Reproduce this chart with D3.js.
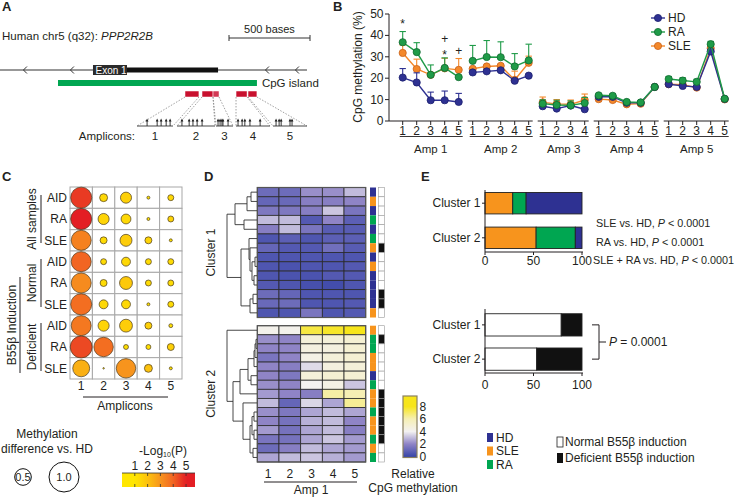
<!DOCTYPE html>
<html><head><meta charset="utf-8">
<script src="https://cdn.jsdelivr.net/npm/d3@7"></script>
<style>body{margin:0;background:#fff}svg{display:block;font-family:"Liberation Sans",Arial,sans-serif}</style>
</head><body><svg id="c" width="738" height="497"></svg>
<script>
// ---------------- DATA ----------------
// Panel A (genomic positions in bases)
const geneLenBp = 1895;
const exon1Bp = [574, 1346];
const cpgIslandBp = [358, 1586];
const ampliconBp = [[1142,1228],[1247,1315],[1315,1352],[1457,1525],[1531,1586]];
const chevronBp = [154, 444, 1648, 1833];
const scaleBarBp = 500;
const ampCpGFrac = [[0.28,0.56,0.67,0.81,0.92],[0.13,0.32,0.42,0.53,0.66],[0.12,0.24,0.35,0.41,0.71],[0.06,0.18,0.26,0.41,0.71],[0.09,0.18,0.24,0.5,0.56]];
const ampliconNames = ["1","2","3","4","5"];

// Panel B
const ampGroups = ["Amp 1","Amp 2","Amp 3","Amp 4","Amp 5"];
const cpgCounts = [5,5,4,5,5];
const hdMeth  = [20.3,18.0,9.7,9.7,8.9, 22.7,23.2,23.7,18.8,21.2, 6.9,5.8,7.2,5.5, 11.3,11.3,8.5,8.5,15.9, 17.2,16.4,15.9,32.5,10.3];
const raMeth  = [36.8,32.2,21.6,24.8,20.5, 28.1,29.9,29.8,25.5,28.3, 8.1,7.5,7.3,8.4, 12.0,11.8,8.9,8.7,15.9, 19.6,18.9,18.3,35.9,10.4];
const sleMeth = [31.8,24.3,21.6,24.6,23.9, 24.4,25.5,25.8,19.2,27.2, 8.7,8.0,7.8,9.8, 10.2,9.8,7.8,8.1,15.9, 17.2,17.0,15.6,34.0,10.1];
const hdSem  = [4.2,4.5,3.8,4.3,4.0, 0.8,0.8,0.8,0.7,0.6, 0.6,0.7,0.6,0.7, 0.5,0.5,0.5,0.5,0.4, 0.6,0.6,0.6,1.0,0.5];
const raSem  = [5.0,4.4,4.6,4.7,0.0, 7.2,7.7,7.2,6.0,7.6, 1.8,2.2,2.1,2.6, 0.6,0.8,0.6,0.6,0.5, 1.2,1.3,1.2,1.3,0.6];
const sleSem = [3.7,4.6,0.4,4.7,5.3, 0.6,0.5,0.7,4.1,3.1, 2.5,2.0,2.0,2.8, 0.6,0.5,0.5,0.5,0.5, 0.6,0.6,0.6,1.0,0.5];
const sigMarks = [{i:0,sym:"*",v:46.4},{i:3,sym:"+",v:38.2},{i:3,sym:"*",v:31.9},{i:4,sym:"+",v:32.8}];
const yTicksB = [0,10,20,30,40,50];

// Panel C
const cRowLabels = ["AID","RA","SLE","AID","RA","SLE","AID","RA","SLE"];
const cGroupLabels = ["All samples","Normal","Deficient"];
const cParentLabel = "B55\u03b2 Induction";
const cColLabels = ["1","2","3","4","5"];
const cDiff = [
  [0.66,0.21,0.31,0.066,0.15],
  [0.66,0.31,0.27,0.066,0.15],
  [0.62,0.18,0.34,0.18,0.066],
  [0.62,0.15,0.24,0.15,0.15],
  [0.62,0.18,0.37,0.15,0.15],
  [0.66,0.24,0.24,0.066,0.15],
  [0.62,0.31,0.37,0.18,0.09],
  [0.69,0.60,0.12,0.12,0.18],
  [0.51,0.03,0.60,0.21,0.066]];
const cLogP = [
  [4.6,1.4,1.6,1.1,1.4],
  [5.0,1.5,1.4,1.1,1.5],
  [3.4,1.3,1.7,1.5,1.1],
  [4.0,1.3,1.4,1.3,1.3],
  [3.2,1.3,1.8,1.3,1.3],
  [3.8,1.4,1.4,1.1,1.3],
  [3.6,1.5,1.7,1.6,1.2],
  [4.4,3.8,1.2,1.2,1.6],
  [2.4,1.0,3.0,2.0,1.1]];
const sizeLegendVals = [0.5, 1.0];
const logPTicks = [1,2,3,4,5];

// Panel D
const hmC1 = [
  [1.2,1.2,2.2,2.2,3.0],[1.0,1.1,1.8,1.8,2.0],[1.6,1.6,1.8,3.2,1.5],[3.0,3.0,0.6,2.0,0.8],
  [1.8,3.0,1.5,0.7,0.7],[0.5,0.8,0.5,0.8,0.8],[1.0,0.6,0.6,1.3,0.7],[0.5,0.5,0.5,0.5,0.5],
  [0.5,0.4,0.5,0.5,0.6],[0.5,0.4,0.4,0.6,0.6],[0.6,0.5,0.3,0.2,0.5],[1.2,1.0,0.5,0.5,0.5],
  [1.1,1.2,0.5,0.5,0.6],[0.5,0.5,1.5,0.5,0.6]];
const hmC2 = [
  [4.2,4.2,7.5,7.8,8.0],[2.2,2.0,4.8,4.8,5.0],[2.0,2.0,4.6,4.6,5.0],[1.5,2.0,4.4,4.8,5.0],
  [2.0,1.8,3.6,4.6,4.8],[2.0,1.6,4.8,5.0,5.0],[2.2,2.0,4.0,4.4,3.2],[2.4,2.0,1.8,6.2,6.0],
  [3.0,1.0,3.5,2.6,6.4],[2.2,1.6,2.6,3.0,2.6],[2.0,1.4,2.8,3.0,2.0],[2.4,1.4,2.6,3.0,1.8],
  [1.5,1.4,2.6,3.2,2.4],[1.2,1.8,3.0,2.6,2.4],[2.6,3.0,3.2,2.8,2.4]];
const grpC1 = ["HD","SLE","HD","RA","HD","RA","SLE","HD","SLE","HD","HD","HD","HD","SLE"];
const grpC2 = ["SLE","RA","RA","SLE","SLE","HD","RA","SLE","SLE","RA","SLE","SLE","RA","SLE","RA"];
const defC1 = [0,0,0,0,0,0,1,0,0,0,0,1,1,0];
const defC2 = [0,1,0,0,0,0,0,1,1,1,1,1,1,0,0];
const dendC1 = [30,[22,[10,[6,0,1],2],[13,3,4]],[16,[8,5,[7,6,[5,[2,7,8],[3,9,10]]]],[7,[4,11,12],13]]];
const dendC2 = [30,0,[24,[17,[9,[3,[2,[1,1,2],3],4],[6,5,6]],7],[14,8,[7,[5,[3,9,10],[3,11,12]],[4,13,14]]]]];
const hmCols = ["1","2","3","4","5"];
const hmTicks = [0,2,4,6,8];

// Panel E
const eClusters = ["Cluster 1","Cluster 2"];
const eSLE = [28.6,52.7];
const eRA  = [13.8,40.4];
const eHD  = [57.6,6.9];
const eNormal = [78.6,53.3];
const eDeficient = [21.4,46.7];
const eTicks = [0,50,100];
const eStats = ["SLE vs. HD, ","RA vs. HD, ","SLE + RA vs. HD, "];
const eStatP = ["< 0.0001","< 0.0001","< 0.0001"];
const eBracketP = "= 0.0001";

// ---------------- DRAW ----------------
const svg = d3.select("#c");
const ink = "#231f20";
const FS = 11.5;
const col = {HD:"#2e3192", RA:"#1f9b48", SLE:"#f4882a"};
const colDark = {HD:"#1c1f6e", RA:"#0f6a2f", SLE:"#c9621a"};
const sideCol = {HD:"#2e3192", RA:"#00a651", SLE:"#f7941d"};

function T(g,x,y,s,o={}){
  const t=g.append("text").attr("x",x).attr("y",y).attr("font-size",o.size||FS).attr("fill",o.fill||ink).text(s);
  if(o.anchor)t.attr("text-anchor",o.anchor);
  if(o.weight)t.attr("font-weight",o.weight);
  if(o.italic)t.attr("font-style","italic");
  if(o.rotate!=null)t.attr("transform",`rotate(${o.rotate},${x},${y})`);
  return t;
}
function L(g,x1,y1,x2,y2,st="#231f20",w=1){
  return g.append("line").attr("x1",x1).attr("y1",y1).attr("x2",x2).attr("y2",y2).attr("stroke",st).attr("stroke-width",w);
}

// panel letters
[["A",2,11],["B",333,11],["C",2,181],["D",204,181],["E",421,181]].forEach(([s,x,y])=>T(svg,x,y,s,{size:13,weight:"bold"}));

// ===== Panel A =====
(function(){
  const g=svg.append("g");
  const xA=d3.scaleLinear().domain([0,scaleBarBp]).range([0,81]);
  const t=T(g,2,40,"Human chr5 (q32): ",{size:11.5});
  t.append("tspan").attr("font-style","italic").text("PPP2R2B");
  const sb0=229, sb1=sb0+xA(scaleBarBp)-xA(0);
  L(g,sb0,38,sb1,38,"#333",1); L(g,sb0,35,sb0,41,"#333",1); L(g,sb1,35,sb1,41,"#333",1);
  T(g,(sb0+sb1)/2,33,"500 bases",{anchor:"middle",size:11});
  L(g,xA(0),70,xA(geneLenBp),70,"#333",1.2);
  chevronBp.forEach(b=>{const x=xA(b);g.append("path").attr("d",`M${x+2},${66.5}L${x-1.5},70L${x+2},${73.5}`).attr("fill","none").attr("stroke","#333").attr("stroke-width",1);});
  g.append("rect").attr("x",xA(exon1Bp[0])).attr("y",67.5).attr("width",xA(exon1Bp[1])-xA(exon1Bp[0])).attr("height",5).attr("fill","#111");
  g.append("rect").attr("x",xA(exon1Bp[0])).attr("y",65).attr("width",34).attr("height",10).attr("fill","#2b2b2b");
  T(g,xA(exon1Bp[0])+2.5,73.8,"Exon 1",{size:10,fill:"#fff"});
  g.append("rect").attr("x",xA(cpgIslandBp[0])).attr("y",80).attr("width",xA(cpgIslandBp[1])-xA(cpgIslandBp[0])).attr("height",6).attr("fill","#00a651");
  T(g,xA(cpgIslandBp[1])+5,87,"CpG island",{size:11.5});
  const spans=[[137,173],[177,215],[216,233],[236,270],[273,307]];
  ampliconBp.forEach((a,i)=>{
    g.append("rect").attr("x",xA(a[0])).attr("y",91).attr("width",xA(a[1])-xA(a[0])).attr("height",6)
      .attr("fill",i===2?"#d23a55":"#c8102e").attr("stroke","#fff").attr("stroke-width",0.5);
    const s=spans[i];
    L(g,xA(a[0]),97,s[0],126,"#888",0.8).attr("stroke-dasharray","1.5,1.5");
    L(g,xA(a[1]),97,s[1],126,"#888",0.8).attr("stroke-dasharray","1.5,1.5");
    L(g,s[0],126,s[1],126,"#333",0.9);
    ampCpGFrac[i].forEach(f=>{
      const x=s[0]+f*(s[1]-s[0]);
      L(g,x,126,x,120,"#222",0.9);
      g.append("path").attr("d",`M${x-1.4},${121.5}L${x},${118.5}L${x+1.4},${121.5}Z`).attr("fill","#222");
    });
    T(g,(s[0]+s[1])/2,140,ampliconNames[i],{anchor:"middle",size:11.5});
  });
  T(g,135,140,"Amplicons:",{anchor:"end",size:11.5});
})();

// ===== Panel B =====
(function(){
  const g=svg.append("g");
  const idx=d3.range(hdMeth.length);
  const xB=d3.scalePoint().domain(idx).range([402.7,724.7]);
  const yB=d3.scaleLinear().domain([0,50]).range([121,14]);
  const starts=[];let acc=0;cpgCounts.forEach(c=>{starts.push(acc);acc+=c;});
  L(g,389,yB(0),389,yB(50),ink,1);
  yTicksB.forEach(v=>{L(g,385,yB(v),389,yB(v),ink,1);T(g,383.5,yB(v)+4,String(v),{anchor:"end",size:12});});
  T(g,362,67,"CpG methylation (%)",{anchor:"middle",size:12,rotate:-90});
  ampGroups.forEach((name,gi)=>{
    const i0=starts[gi],i1=i0+cpgCounts[gi]-1;
    const xa=gi===0?389:xB(i0)-5, xb=xB(i1)+4;
    L(g,xa,121,xb,121,ink,1);
    for(let i=i0;i<=i1;i++){L(g,xB(i),121,xB(i),125,ink,1);T(g,xB(i),134.5,String(i-i0+1),{anchor:"middle",size:12});}
    L(g,xB(i0)-3,136.5,xb,136.5,ink,0.9);
    T(g,(xB(i0)+xB(i1))/2,152.5,name,{anchor:"middle",size:11.5});
  });
  const series=[{n:"SLE",v:sleMeth,e:sleSem},{n:"HD",v:hdMeth,e:hdSem},{n:"RA",v:raMeth,e:raSem}];
  series.forEach(s=>{
    const sg=g.append("g");
    ampGroups.forEach((_,gi)=>{
      const ids=d3.range(starts[gi],starts[gi]+cpgCounts[gi]);
      sg.append("path").attr("d",d3.line().x(i=>xB(i)).y(i=>yB(s.v[i]))(ids)).attr("fill","none").attr("stroke",col[s.n]).attr("stroke-width",1.4);
    });
    idx.forEach(i=>{
      if(s.e[i]>0){
        const yt=yB(s.v[i]+s.e[i]);
        L(sg,xB(i),yB(s.v[i]),xB(i),yt,col[s.n],1.1);
        L(sg,xB(i)-3.2,yt,xB(i)+3.2,yt,col[s.n],1.1);
      }
    });
    idx.forEach(i=>sg.append("circle").attr("cx",xB(i)).attr("cy",yB(s.v[i])).attr("r",3.6).attr("fill",col[s.n]).attr("stroke",colDark[s.n]).attr("stroke-width",0.8));
  });
  sigMarks.forEach(m=>T(g,xB(m.i),yB(m.v)+(m.sym==="*"?6:4),m.sym,{anchor:"middle",size:12}));
  [["HD",18],["RA",32],["SLE",46]].forEach(([n,y])=>{
    L(g,651,y,665,y,col[n],1.4);
    g.append("circle").attr("cx",658).attr("cy",y).attr("r",3.6).attr("fill",col[n]).attr("stroke",colDark[n]).attr("stroke-width",0.8);
    T(g,668,y+4.2,n,{size:12});
  });
})();

// ===== Panel C =====
(function(){
  const g=svg.append("g");
  const xC=d3.scaleBand().domain(d3.range(5)).range([70,182]);
  const yC=d3.scaleBand().domain(d3.range(9)).range([187,379]);
  const rC=d3.scalePow().exponent(0.85).domain([0,1]).range([0,15]);
  const cC=d3.scaleLinear().domain([1,2,3,4,5]).range(["#ffe600","#fcc20e","#f7941d","#f26522","#e31e24"]).clamp(true);
  for(let r=0;r<9;r++)for(let c=0;c<5;c++){
    g.append("rect").attr("x",xC(c)).attr("y",yC(r)).attr("width",xC.bandwidth()).attr("height",yC.bandwidth()).attr("fill","#fff").attr("stroke","#a7a7a7").attr("stroke-width",1);
  }
  for(let r=0;r<9;r++)for(let c=0;c<5;c++){
    g.append("circle").attr("cx",xC(c)+xC.bandwidth()/2).attr("cy",yC(r)+yC.bandwidth()/2).attr("r",rC(cDiff[r][c]))
      .attr("fill",cC(cLogP[r][c])).attr("stroke","#4a3b1e").attr("stroke-width",0.7);
  }
  cRowLabels.forEach((s,r)=>T(g,67,yC(r)+yC.bandwidth()/2+4.2,s,{anchor:"end",size:12}));
  cGroupLabels.forEach((s,k)=>{
    const y0=yC(k*3)+8,y1=yC(k*3+2)+yC.bandwidth()-8;
    L(g,41,y0,41,y1,ink,1);
    T(g,36,(y0+y1)/2,s,{anchor:"middle",size:12,rotate:-90});
  });
  L(g,20,277,20,373,ink,1);
  T(g,16,325,cParentLabel,{anchor:"middle",size:12,rotate:-90});
  cColLabels.forEach((s,c)=>T(g,xC(c)+xC.bandwidth()/2,389.5,s,{anchor:"middle",size:12}));
  L(g,83,397,168,397,ink,1);
  T(g,125,409.5,"Amplicons",{anchor:"middle",size:12});
  T(g,47,438,"Methylation",{anchor:"middle",size:12});
  T(g,47,452.5,"difference vs. HD",{anchor:"middle",size:12});
  [[23,sizeLegendVals[0]],[64,sizeLegendVals[1]]].forEach(([x,v])=>{
    g.append("circle").attr("cx",x).attr("cy",477).attr("r",rC(v)).attr("fill","none").attr("stroke","#111").attr("stroke-width",1);
    T(g,x,481,v.toFixed(1),{anchor:"middle",size:11});
  });
  const xL=d3.scaleLinear().domain([0,5.7]).range([122,195]);
  const gr=svg.append("defs").append("linearGradient").attr("id","lg").attr("x1","0%").attr("x2","100%");
  d3.range(0,5.71,0.3).forEach(v=>gr.append("stop").attr("offset",(v/5.7*100)+"%").attr("stop-color",cC(v)));
  g.append("rect").attr("x",xL(0)).attr("y",473).attr("width",xL(5.7)-xL(0)).attr("height",14).attr("fill","url(#lg)");
  logPTicks.forEach(v=>{L(g,xL(v),473,xL(v),476,"#333",0.8);L(g,xL(v),484,xL(v),487,"#333",0.8);T(g,xL(v),470,String(v),{anchor:"middle",size:12});});
  L(g,xL(0),473,xL(5.7),473,"#333",0.8);
  const tl=T(g,163,455,"-Log",{anchor:"middle",size:12});
  tl.append("tspan").attr("font-size",7).attr("dy",2).text("10");
  tl.append("tspan").attr("dy",-2).text("(P)");
})();

// ===== Panel D =====
(function(){
  const g=svg.append("g");
  const xD=d3.scaleBand().domain(d3.range(5)).range([257.3,365.7]);
  const heat=d3.scaleLinear().domain([0,2,4,6,8]).range(["#3a47a9","#8f84c6","#f3f1f1","#f6efb4","#f7e51a"]).clamp(true);
  const xDen=d3.scaleLinear().domain([0,30]).range([257,227]);
  function block(data,grp,def,dend,y0,y1,label){
    const yD=d3.scaleBand().domain(d3.range(data.length)).range([y0,y1]);
    data.forEach((row,r)=>row.forEach((v,c)=>{
      g.append("rect").attr("x",xD(c)).attr("y",yD(r)).attr("width",xD.bandwidth()).attr("height",yD.bandwidth())
        .attr("fill",heat(v)).attr("stroke","#2a2a2a").attr("stroke-width",0.8);
    }));
    g.append("rect").attr("x",xD(0)).attr("y",y0).attr("width",xD.range()[1]-xD(0)).attr("height",y1-y0).attr("fill","none").attr("stroke","#555").attr("stroke-width",1.2);
    grp.forEach((d,r)=>g.append("rect").attr("x",370).attr("y",yD(r)).attr("width",6).attr("height",yD.bandwidth()).attr("fill",sideCol[d]));
    def.forEach((d,r)=>g.append("rect").attr("x",378.5).attr("y",yD(r)).attr("width",6).attr("height",yD.bandwidth()).attr("fill",d?"#111":"#fff").attr("stroke","#9a9a9a").attr("stroke-width",0.6));
    function lay(n){
      if(typeof n==="number")return {x:xDen(0),y:yD(n)+yD.bandwidth()/2};
      const h=n[0],a=lay(n[1]),b=lay(n[2]),x=xDen(h);
      L(g,x,a.y,x,b.y,"#333",0.9);
      L(g,x,a.y,a.x,a.y,"#333",0.9);
      L(g,x,b.y,b.x,b.y,"#333",0.9);
      return {x:x,y:(a.y+b.y)/2};
    }
    lay(dend);
    T(g,215,(y0+y1)/2,label,{anchor:"middle",size:12,rotate:-90});
  }
  block(hmC1,grpC1,defC1,dendC1,187.5,317.5,"Cluster 1");
  block(hmC2,grpC2,defC2,dendC2,325.7,462,"Cluster 2");
  hmCols.forEach((s,c)=>T(g,xD(c)+xD.bandwidth()/2,478,s,{anchor:"middle",size:12}));
  L(g,264,482,357,482,ink,1);
  T(g,311,493.5,"Amp 1",{anchor:"middle",size:12});
  const yCb=d3.scaleLinear().domain([0,8]).range([456.5,406.5]);
  const gr=svg.select("defs").append("linearGradient").attr("id","hg").attr("x1","0%").attr("x2","0%").attr("y1","100%").attr("y2","0%");
  const top=396,bot=457.5;
  d3.range(0,9.01,0.5).forEach(v=>{const y=yCb(v);gr.append("stop").attr("offset",((bot-y)/(bot-top)*100)+"%").attr("stop-color",heat(v));});
  g.append("rect").attr("x",403).attr("y",top).attr("width",14).attr("height",bot-top).attr("fill","url(#hg)").attr("stroke","#8a8060").attr("stroke-width",1.2);
  hmTicks.forEach(v=>T(g,419.5,yCb(v)+4,String(v),{size:12}));
  T(g,413,478,"Relative",{anchor:"middle",size:12});
  T(g,413,492,"CpG methylation",{anchor:"middle",size:12});
})();

// ===== Panel E =====
(function(){
  const g=svg.append("g");
  const xE=d3.scaleLinear().domain([0,100]).range([485,582]);
  const yT=d3.scaleBand().domain(eClusters).range([189,252]).paddingInner(0.38).paddingOuter(0.1);
  eClusters.forEach((cl,i)=>{
    let acc=0;
    [["SLE",eSLE[i]],["RA",eRA[i]],["HD",eHD[i]]].forEach(([k,v])=>{
      g.append("rect").attr("x",xE(acc)).attr("y",yT(cl)).attr("width",xE(acc+v)-xE(acc)).attr("height",yT.bandwidth())
        .attr("fill",sideCol[k]).attr("stroke","#222").attr("stroke-width",0.9);
      acc+=v;
    });
    const yc=yT(cl)+yT.bandwidth()/2;
    L(g,482,yc,485,yc,ink,1);
    T(g,480.5,yc+4,cl,{anchor:"end",size:12});
  });
  L(g,485,190,485,252,ink,1);
  L(g,485,252,583,252,ink,1);
  eTicks.forEach(v=>{L(g,xE(v),252,xE(v),255,ink,1);T(g,xE(v),264.5,String(v),{anchor:"middle",size:12});});
  [226.7,245.7,264.2].forEach((y,k)=>{
    const t=T(g,k===2?593:596,y,eStats[k],{size:10.8});
    t.append("tspan").attr("font-style","italic").text("P");
    t.append("tspan").text(" "+eStatP[k]);
  });
  const yB2=d3.scaleBand().domain(eClusters).range([311,373]).paddingInner(0.35).paddingOuter(0.08);
  eClusters.forEach((cl,i)=>{
    g.append("rect").attr("x",xE(0)).attr("y",yB2(cl)).attr("width",xE(eNormal[i])-xE(0)).attr("height",yB2.bandwidth()).attr("fill","#fff").attr("stroke","#222").attr("stroke-width",0.9);
    g.append("rect").attr("x",xE(eNormal[i])).attr("y",yB2(cl)).attr("width",xE(eNormal[i]+eDeficient[i])-xE(eNormal[i])).attr("height",yB2.bandwidth()).attr("fill","#111").attr("stroke","#222").attr("stroke-width",0.9);
    const yc=yB2(cl)+yB2.bandwidth()/2;
    L(g,482,yc,485,yc,ink,1);
    T(g,480.5,yc+4,cl,{anchor:"end",size:12});
  });
  L(g,485,309,485,373,ink,1);
  L(g,485,373,583,373,ink,1);
  eTicks.forEach(v=>{L(g,xE(v),373,xE(v),376,ink,1);T(g,xE(v),389,String(v),{anchor:"middle",size:12});});
  const yb1=yB2(eClusters[0])+yB2.bandwidth()/2, yb2=yB2(eClusters[1])+yB2.bandwidth()/2;
  L(g,592,yb1,599,yb1,ink,1);L(g,592,yb2,599,yb2,ink,1);L(g,599,yb1,599,yb2,ink,1);
  const ym=(yb1+yb2)/2;
  L(g,599,ym,606,ym,ink,1);
  const pt=T(g,609,ym+4,"",{size:12});
  pt.append("tspan").attr("font-style","italic").text("P");
  pt.append("tspan").text(" "+eBracketP);
  [["HD",433],["SLE",446.5],["RA",460]].forEach(([k,y])=>{
    g.append("rect").attr("x",487).attr("y",y).attr("width",6).attr("height",9).attr("fill",sideCol[k]);
    T(g,496,y+8.5,k,{size:12});
  });
  g.append("rect").attr("x",557).attr("y",437).attr("width",6).attr("height",10).attr("fill","#fff").attr("stroke","#222").attr("stroke-width",0.8);
  T(g,565,446,"Normal B55\u03b2 induction",{size:12});
  g.append("rect").attr("x",557).attr("y",453).attr("width",6).attr("height",10).attr("fill","#111");
  T(g,565,462,"Deficient B55\u03b2 induction",{size:12});
})();
</script></body></html>
